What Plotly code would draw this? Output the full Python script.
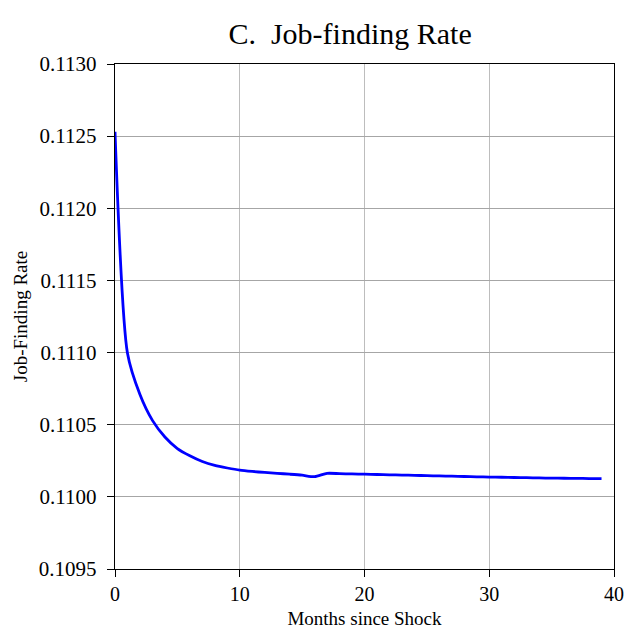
import plotly.graph_objects as go

months = list(range(40))
job_finding_rate = [
    0.11253, 0.110995, 0.110709, 0.110530, 0.110415, 0.110335, 0.110285, 0.110245,
    0.110218, 0.110200, 0.110185, 0.110176, 0.110169, 0.110163, 0.110157, 0.110150,
    0.110140, 0.110163, 0.110161, 0.110159, 0.110157, 0.110155, 0.110153, 0.110151,
    0.110149, 0.110147, 0.110145, 0.110143, 0.110141, 0.110139, 0.110137, 0.110136,
    0.110134, 0.110133, 0.110131, 0.110130, 0.110129, 0.110128, 0.110127, 0.110126,
]
x_ticks = [0, 10, 20, 30, 40]
y_ticks = [0.1095, 0.1100, 0.1105, 0.1110, 0.1115, 0.1120, 0.1125, 0.1130]

fig = go.Figure()
fig.add_trace(go.Scatter(
    x=months, y=job_finding_rate, mode="lines",
    line=dict(color="#0000ff", width=2.8, shape="spline", smoothing=0.7),
    showlegend=False, hoverinfo="skip",
))

fig.update_layout(
    width=633, height=635,
    margin=dict(l=115, r=9, t=64, b=57),
    paper_bgcolor="white", plot_bgcolor="white",
    title=dict(text="C.  Job-finding Rate", x=0.553, xanchor="center",
               y=0.947, yanchor="middle",
               font=dict(family="Liberation Serif", size=30, color="black")),
    font=dict(family="Liberation Serif", size=20, color="black"),
)
fig.update_xaxes(
    range=[0, 40], tickvals=x_ticks, ticktext=[str(v) for v in x_ticks],
    showgrid=True, gridcolor="#bdbdbd", gridwidth=1.2,
    showline=True, linecolor="black", linewidth=1.4, mirror=True,
    ticks="outside", ticklen=7, tickcolor="black", zeroline=False,
    tickfont=dict(family="Liberation Serif", size=20),
    title=dict(text="Months since Shock", font=dict(family="Liberation Serif", size=19), standoff=7),
)
fig.update_yaxes(
    range=[0.1095, 0.1130], tickvals=y_ticks, ticktext=[f"{v:.4f}" for v in y_ticks],
    showgrid=True, gridcolor="#a6a6a6", gridwidth=1.2,
    showline=True, linecolor="black", linewidth=1.4, mirror=True,
    ticks="outside", ticklen=7, tickcolor="black", zeroline=False,
    ticklabelstandoff=6,
    tickfont=dict(family="Liberation Serif", size=21),
    title=dict(text="Job-Finding Rate", font=dict(family="Liberation Serif", size=19), standoff=6),
)

fig.write_html(
    "out.html",
    config={"displayModeBar": False},
    post_script="document.body.style.margin='0';document.body.style.overflow='hidden';",
)
